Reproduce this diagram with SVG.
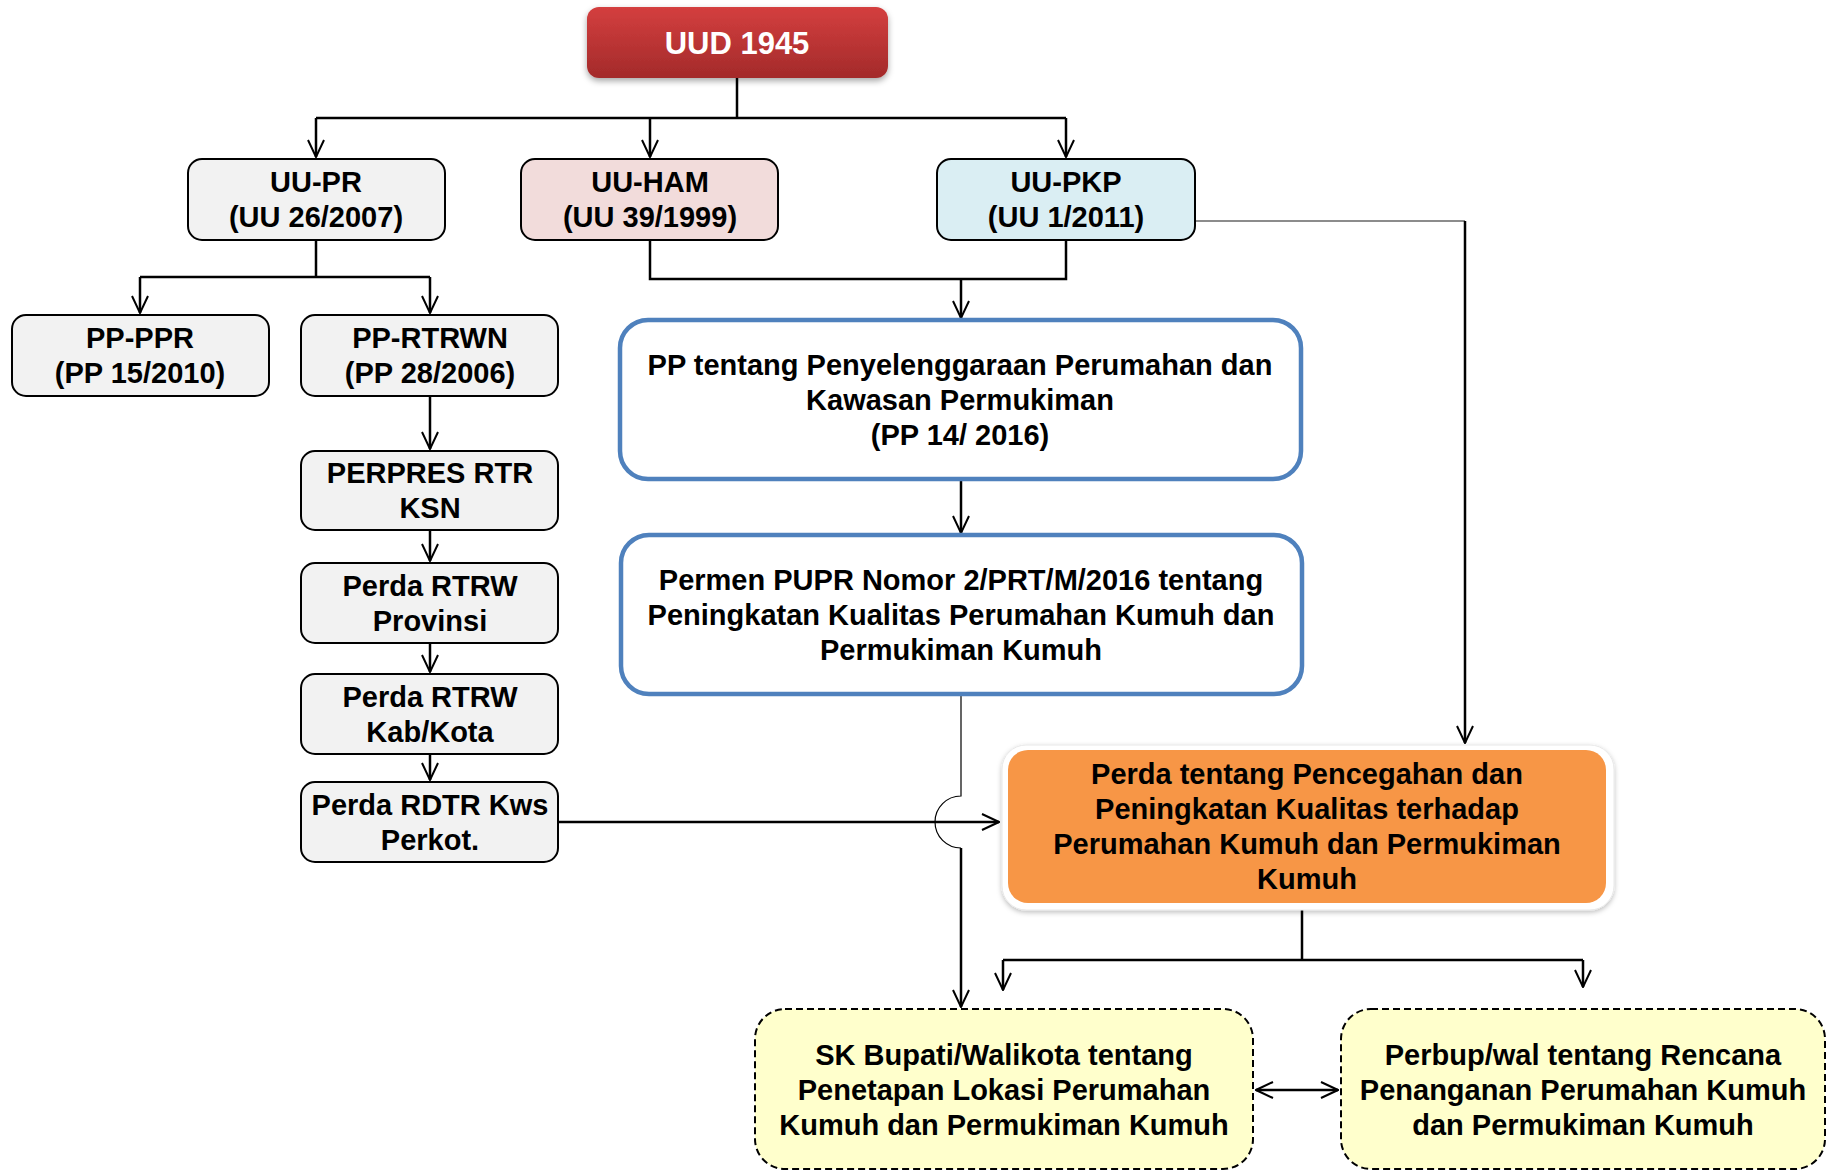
<svg xmlns="http://www.w3.org/2000/svg" width="1835" height="1172" viewBox="0 0 1835 1172">
<defs>
<linearGradient id="red" x1="0" y1="0" x2="0" y2="1">
<stop offset="0" stop-color="#D43F3F"/>
<stop offset="1" stop-color="#A32A2A"/>
</linearGradient>
<filter id="sh" x="-10%" y="-20%" width="120%" height="150%">
<feDropShadow dx="0" dy="3" stdDeviation="3" flood-color="#000" flood-opacity="0.35"/>
</filter>
<filter id="sh2" x="-5%" y="-10%" width="110%" height="125%">
<feDropShadow dx="0" dy="2" stdDeviation="2.5" flood-color="#000" flood-opacity="0.25"/>
</filter>
<marker id="ah" viewBox="0 0 20 20" refX="19" refY="10" markerWidth="20" markerHeight="20" markerUnits="userSpaceOnUse" orient="auto-start-reverse">
<path d="M2,2 L19,10 L2,18" fill="none" stroke="#000" stroke-width="2"/>
</marker>
<style>
text{font-family:"Liberation Sans",Arial,sans-serif;font-weight:bold;font-size:29px;text-anchor:middle;fill:#000}
.g{fill:#F2F2F2;stroke:#000;stroke-width:2}
.b{fill:#FFFFFF;stroke:#4F81BD;stroke-width:4.5}
.y{fill:#FFFFCC;stroke:#000;stroke-width:2;stroke-dasharray:7 4}
.c{fill:none;stroke:#000;stroke-width:2.5}
.t{fill:none;stroke:#000;stroke-width:1.2}
.a{marker-end:url(#ah)}
</style>
</defs>
<g id="connectors">
<path class="c" d="M737,78 V118 M316,118 H1066"/>
<path class="c a" d="M316,118 V157"/>
<path class="c a" d="M650,118 V157"/>
<path class="c a" d="M1066,118 V157"/>
<path class="c" d="M316,240 V277 M140,277 H430"/>
<path class="c a" d="M140,277 V313"/>
<path class="c a" d="M430,277 V313"/>
<path class="c a" d="M430,396 V449"/>
<path class="c a" d="M430,530 V561"/>
<path class="c a" d="M430,643 V672"/>
<path class="c a" d="M430,754 V780"/>
<path class="c" d="M650,240 V279 H1066 V240"/>
<path class="c a" d="M961,279 V318"/>
<path class="c a" d="M961,479 V533"/>
<path fill="none" stroke="#666" stroke-width="1.5" d="M1195,221 H1465"/>
<path class="c a" d="M1465,221 V743"/>
<path class="t" d="M961,694 V796 A26,26 0 0 0 961,848"/>
<path class="c a" d="M961,848 V1007"/>
<path class="c a" d="M558,822 H999"/>
<path class="c" d="M1302,910 V960 M1003,960 H1583"/>
<path class="c a" d="M1003,960 V990"/>
<path class="c a" d="M1583,960 V987"/>
<path class="c a" d="M1256,1090 H1338" marker-start="url(#ah)"/>
</g>
<g id="uud">
<rect x="587" y="7" width="301" height="71" rx="12" fill="url(#red)" filter="url(#sh)"/>
<text x="737" y="54" style="font-size:31px;fill:#fff">UUD 1945</text>
</g>
<g id="uu-pr">
<rect class="g" x="188" y="159" width="257" height="81" rx="14"/>
<text x="316" y="192">UU-PR</text>
<text x="316" y="227">(UU 26/2007)</text>
</g>
<g id="uu-ham">
<rect x="521" y="159" width="257" height="81" rx="14" fill="#F2DCDB" stroke="#000" stroke-width="2"/>
<text x="650" y="192">UU-HAM</text>
<text x="650" y="227">(UU 39/1999)</text>
</g>
<g id="uu-pkp">
<rect x="937" y="159" width="258" height="81" rx="14" fill="#DAEEF3" stroke="#000" stroke-width="2"/>
<text x="1066" y="192">UU-PKP</text>
<text x="1066" y="227">(UU 1/2011)</text>
</g>
<g id="pp-ppr">
<rect class="g" x="12" y="315" width="257" height="81" rx="14"/>
<text x="140" y="348">PP-PPR</text>
<text x="140" y="383">(PP 15/2010)</text>
</g>
<g id="pp-rtrwn">
<rect class="g" x="301" y="315" width="257" height="81" rx="14"/>
<text x="430" y="348">PP-RTRWN</text>
<text x="430" y="383">(PP 28/2006)</text>
</g>
<g id="perpres">
<rect class="g" x="301" y="451" width="257" height="79" rx="14"/>
<text x="430" y="483">PERPRES RTR</text>
<text x="430" y="518">KSN</text>
</g>
<g id="perda-prov">
<rect class="g" x="301" y="563" width="257" height="80" rx="14"/>
<text x="430" y="596">Perda RTRW</text>
<text x="430" y="631">Provinsi</text>
</g>
<g id="perda-kab">
<rect class="g" x="301" y="674" width="257" height="80" rx="14"/>
<text x="430" y="707">Perda RTRW</text>
<text x="430" y="742">Kab/Kota</text>
</g>
<g id="perda-rdtr">
<rect class="g" x="301" y="782" width="257" height="80" rx="14"/>
<text x="430" y="815">Perda RDTR Kws</text>
<text x="430" y="850">Perkot.</text>
</g>
<g id="pp14">
<rect class="b" x="620" y="320" width="681" height="159" rx="28"/>
<text x="960" y="375">PP tentang Penyelenggaraan Perumahan dan</text>
<text x="960" y="410">Kawasan Permukiman</text>
<text x="960" y="445">(PP 14/ 2016)</text>
</g>
<g id="permen">
<rect class="b" x="621" y="535" width="681" height="159" rx="28"/>
<text x="961" y="590">Permen PUPR Nomor 2/PRT/M/2016 tentang</text>
<text x="961" y="625">Peningkatan Kualitas Perumahan Kumuh dan</text>
<text x="961" y="660">Permukiman Kumuh</text>
</g>
<g id="perda-kumuh">
<rect x="1002" y="745" width="612" height="165" rx="24" fill="#FFFFFF" stroke="#E8E8E8" stroke-width="1" filter="url(#sh2)"/>
<rect x="1008" y="750" width="598" height="153" rx="20" fill="#F79646"/>
<text x="1307" y="784">Perda tentang Pencegahan dan</text>
<text x="1307" y="819">Peningkatan Kualitas terhadap</text>
<text x="1307" y="854">Perumahan Kumuh dan Permukiman</text>
<text x="1307" y="889">Kumuh</text>
</g>
<g id="sk">
<rect class="y" x="755" y="1009" width="498" height="160" rx="30"/>
<text x="1004" y="1065">SK Bupati/Walikota tentang</text>
<text x="1004" y="1100">Penetapan Lokasi Perumahan</text>
<text x="1004" y="1135">Kumuh dan Permukiman Kumuh</text>
</g>
<g id="perbup">
<rect class="y" x="1341" y="1009" width="484" height="160" rx="30"/>
<text x="1583" y="1065">Perbup/wal tentang Rencana</text>
<text x="1583" y="1100">Penanganan Perumahan Kumuh</text>
<text x="1583" y="1135">dan Permukiman Kumuh</text>
</g>
</svg>
